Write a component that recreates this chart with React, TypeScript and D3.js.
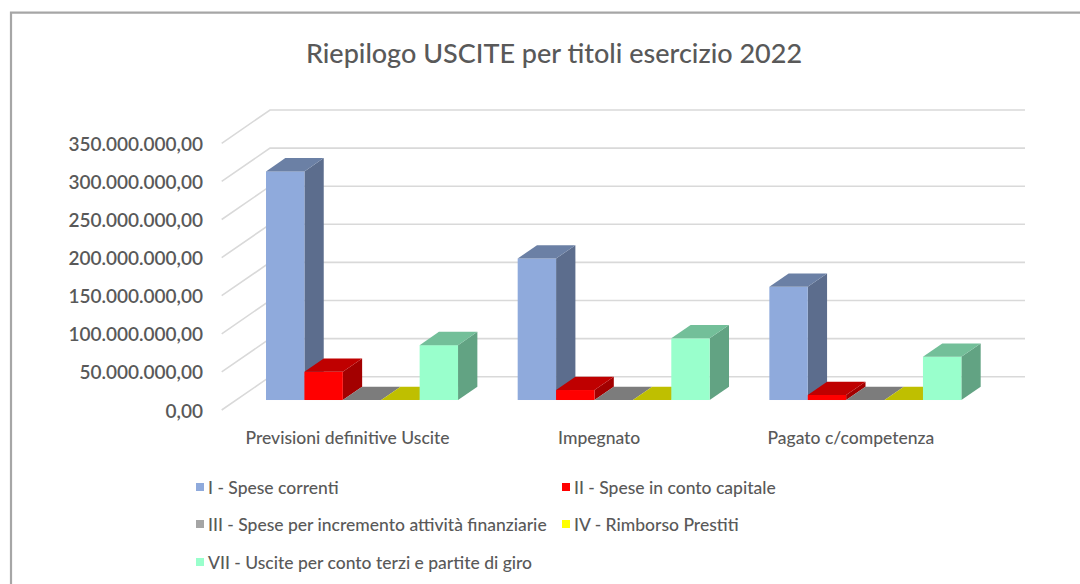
import * as d3 from "d3";

const categories = ["Previsioni definitive Uscite", "Impegnato", "Pagato c/competenza"];
const seriesNames = [
  "I - Spese correnti",
  "II - Spese in conto capitale",
  "III - Spese per incremento attività finanziarie",
  "IV - Rimborso Prestiti",
  "VII - Uscite per conto terzi e partite di giro",
];
const seriesColors = ["#8FAADC", "#FF0000", "#A5A5A5", "#FFFF00", "#99FFCC"];
// valori in euro
const speseCorrenti = [300.0e6, 185.7e6, 148.5e6];
const speseContoCapitale = [37.1e6, 13.1e6, 6.6e6];
const speseAttivitaFinanziarie = [0, 0, 0];
const rimborsoPrestiti = [0, 0, 0];
const usciteContoTerzi = [72.0e6, 80.9e6, 56.8e6];
const seriesValues = [speseCorrenti, speseContoCapitale, speseAttivitaFinanziarie, rimborsoPrestiti, usciteContoTerzi];
const yMax = 350e6;

const W = 1080, H = 584;
const FONT = "Lato, 'Open Sans', sans-serif";
const TXT = "#595959";
const FX = 221.7, WALL = 755;          // front-left corner of floor, wall width
const DX = 48.3, DY = -33.3;           // full depth vector (front -> back wall)
const T0 = 0.3, T1 = 0.7;              // depth range occupied by the bars

const it = d3.formatLocale({ decimal: ",", thousands: ".", grouping: [3], currency: ["", "€"] }).format(",.2f");
const shade = (c: string, k: number) => { const r = d3.rgb(c); return d3.rgb(r.r * k, r.g * k, r.b * k).formatHex(); };
const poly = (p: [number, number][]) => "M" + p.map(q => q.join(",")).join("L") + "Z";

export default function App() {
  const y = d3.scaleLinear().domain([0, yMax]).range([410, 143.3]);
  const xc = d3.scaleBand().domain(categories).range([FX, FX + WALL]).paddingInner(0.237).paddingOuter(0.1185);
  const xs = d3.scaleBand().domain(seriesNames).range([0, xc.bandwidth()]);
  const ticks = y.ticks(7);
  const ox = DX * T0, oy = DY * T0;             // offset of bar front faces
  const bx = DX * (T1 - T0), by = DY * (T1 - T0); // bar depth

  const bars: JSX.Element[] = [];
  categories.forEach((c, ci) => {
    seriesNames.forEach((s, si) => {
      const v = seriesValues[si][ci];
      const col = seriesColors[si];
      const x0 = xc(c)! + xs(s)! + ox, x1 = x0 + xs.bandwidth();
      const yb = y(0) + oy, yt = y(v) + oy;
      bars.push(
        <g key={`${ci}-${si}`}>
          {v > 0 && <path d={poly([[x1, yb], [x1 + bx, yb + by], [x1 + bx, yt + by], [x1, yt]])} fill={shade(col, 0.64)} />}
          {v > 0 && <rect x={x0} y={yt} width={x1 - x0} height={yb - yt} fill={col} />}
          <path d={poly([[x0, yt], [x1, yt], [x1 + bx, yt + by], [x0 + bx, yt + by]])} fill={shade(col, 0.75)} />
        </g>
      );
    });
  });

  return (
    <svg width={W} height={H} viewBox={`0 0 ${W} ${H}`} style={{ position: "absolute", left: 0, top: 0, fontFamily: FONT, fontWeight: 500 }}>
      <rect x={0} y={0} width={W} height={H} fill="#fff" />
      <path d={`M11,${H + 5}V12.7H${W + 5}`} fill="none" stroke="#A6A6A6" strokeWidth={2.2} />
      <text x={554} y={52} textAnchor="middle" dominantBaseline="central" fontSize={27} fill={TXT}>Riepilogo USCITE per titoli esercizio 2022</text>

      {ticks.map(t => (
        <g key={t}>
          <path d={`M${FX},${y(t)}L${FX + DX},${y(t) + DY}H${FX + DX + WALL}`} fill="none" stroke="#D9D9D9" strokeWidth={1.6} />
          <text x={203} y={y(t)} textAnchor="end" dominantBaseline="central" fontSize={19} fontWeight={600} fill={TXT}>{it(t)}</text>
        </g>
      ))}

      {bars}

      {categories.map(c => (
        <text key={c} x={xc(c)! + xc.bandwidth() / 2} y={437} textAnchor="middle" dominantBaseline="central" fontSize={17.5} fill={TXT}>{c}</text>
      ))}

      {seriesNames.map((s, i) => {
        const lx = i % 2 === 0 || i === 4 ? 196 : 562;
        const ly = [487, 487, 524, 524, 562][i];
        return (
          <g key={s}>
            <rect x={lx} y={ly - 4} width={8} height={8} fill={seriesColors[i]} />
            <text x={lx + 12} y={ly} dominantBaseline="central" fontSize={17.5} fill={TXT}>{s}</text>
          </g>
        );
      })}
    </svg>
  );
}
